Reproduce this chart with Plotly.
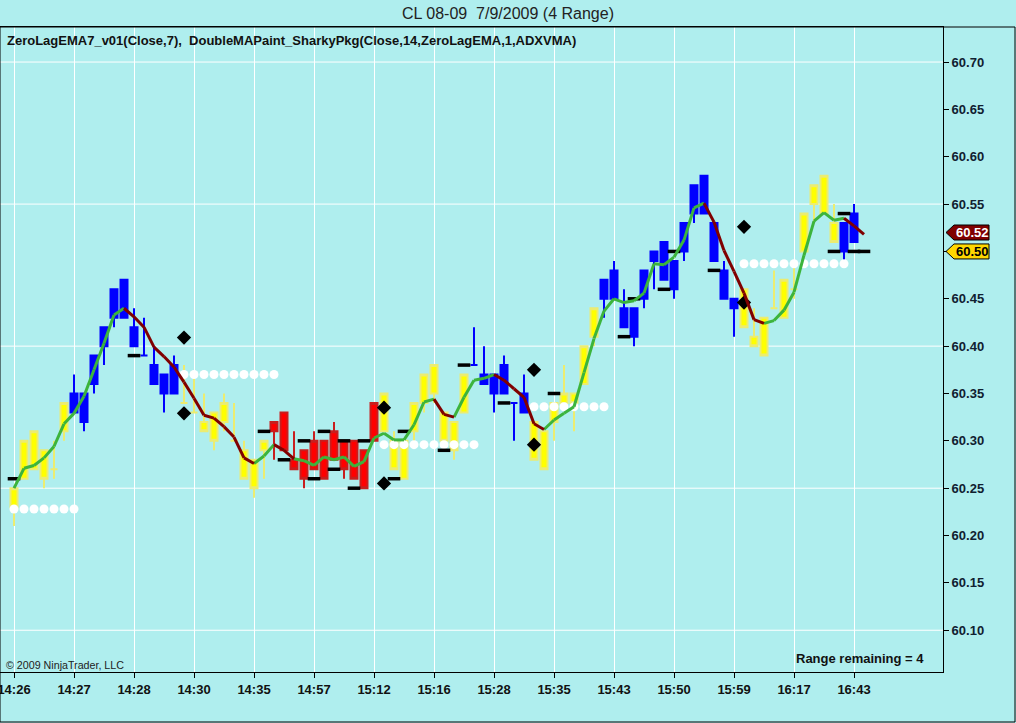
import plotly.graph_objects as go

# ---- chart data (4-tick range bars, CL 08-09, 7/9/2009) ----
# paint colour of each bar: Y yellow, B blue, R red
paint = ("YYYYYYBBBB" "BBBBBBBYYY" "YYYYYYRRRR" "RRRRRRRYYY"
         "YYYYYYBBBB" "BBYYYYYYYB" "BBBBBBBBBB" "BBBYYYYYYY" "YYYBB")

opens = [60.23, 60.26, 60.27, 60.29, 60.27, 60.31, 60.33, 60.35, 60.36, 60.40,
         60.43, 60.43, 60.42, 60.39, 60.38, 60.37, 60.35, 60.34, 60.33, 60.32,
         60.33, 60.32, 60.30, 60.29, 60.28, 60.29, 60.31, 60.33, 60.28, 60.29,
         60.27, 60.30, 60.28, 60.30, 60.30, 60.29, 60.30, 60.31, 60.30, 60.26,
         60.31, 60.34, 60.35, 60.33, 60.32, 60.33, 60.38, 60.36, 60.37, 60.35,
         60.34, 60.35, 60.32, 60.31, 60.32, 60.34, 60.35, 60.36, 60.41, 60.45,
         60.45, 60.44, 60.44, 60.45, 60.49, 60.47, 60.49, 60.50, 60.54, 60.54,
         60.53, 60.48, 60.45, 60.46, 60.41, 60.43, 60.44, 60.43, 60.46, 60.50,
         60.55, 60.54, 60.53, 60.50, 60.51]
highs = [60.25, 60.30, 60.31, 60.29, 60.30, 60.34, 60.37, 60.35, 60.39, 60.42,
         60.46, 60.47, 60.44, 60.43, 60.40, 60.37, 60.39, 60.38, 60.37, 60.35,
         60.33, 60.35, 60.34, 60.30, 60.28, 60.30, 60.32, 60.33, 60.31, 60.29,
         60.31, 60.30, 60.32, 60.30, 60.30, 60.29, 60.34, 60.35, 60.31, 60.30,
         60.34, 60.37, 60.38, 60.33, 60.32, 60.37, 60.42, 60.40, 60.37, 60.39,
         60.34, 60.37, 60.32, 60.31, 60.34, 60.38, 60.35, 60.40, 60.44, 60.47,
         60.49, 60.46, 60.44, 60.48, 60.50, 60.51, 60.49, 60.53, 60.57, 60.58,
         60.53, 60.49, 60.45, 60.46, 60.44, 60.43, 60.48, 60.47, 60.49, 60.54,
         60.57, 60.58, 60.55, 60.53, 60.55]
lows = [60.21, 60.26, 60.27, 60.25, 60.26, 60.30, 60.33, 60.31, 60.35, 60.38,
        60.42, 60.43, 60.40, 60.39, 60.36, 60.33, 60.35, 60.34, 60.33, 60.31,
        60.29, 60.31, 60.30, 60.26, 60.24, 60.26, 60.28, 60.29, 60.27, 60.25,
        60.27, 60.26, 60.28, 60.26, 60.26, 60.25, 60.30, 60.31, 60.27, 60.26,
        60.30, 60.33, 60.34, 60.29, 60.28, 60.33, 60.38, 60.36, 60.33, 60.35,
        60.30, 60.33, 60.28, 60.27, 60.30, 60.34, 60.31, 60.36, 60.40, 60.43,
        60.45, 60.42, 60.40, 60.44, 60.46, 60.47, 60.45, 60.49, 60.53, 60.54,
        60.49, 60.45, 60.41, 60.42, 60.40, 60.39, 60.44, 60.43, 60.45, 60.50,
        60.53, 60.54, 60.51, 60.49, 60.51]
closes = [60.25, 60.30, 60.31, 60.26, 60.27, 60.34, 60.35, 60.32, 60.39, 60.42,
          60.46, 60.47, 60.40, 60.39, 60.36, 60.35, 60.38, 60.34, 60.33, 60.31,
          60.30, 60.34, 60.30, 60.26, 60.25, 60.30, 60.32, 60.29, 60.27, 60.26,
          60.30, 60.26, 60.31, 60.27, 60.26, 60.25, 60.34, 60.35, 60.27, 60.30,
          60.34, 60.37, 60.38, 60.30, 60.29, 60.37, 60.38, 60.37, 60.35, 60.38,
          60.34, 60.33, 60.28, 60.27, 60.34, 60.35, 60.34, 60.40, 60.44, 60.47,
          60.48, 60.42, 60.41, 60.48, 60.50, 60.51, 60.46, 60.53, 60.57, 60.58,
          60.49, 60.45, 60.44, 60.42, 60.40, 60.39, 60.44, 60.47, 60.46, 60.54,
          60.57, 60.58, 60.51, 60.53, 60.54]

# ZeroLagEMA(7) value per bar (one extra for the bar now forming)
zlema = [60.250, 60.271, 60.274, 60.282, 60.294, 60.318, 60.329, 60.347, 60.375, 60.403,
         60.433, 60.440, 60.431, 60.420, 60.399, 60.389, 60.378, 60.362, 60.345, 60.327,
         60.324, 60.315, 60.304, 60.282, 60.276, 60.284, 60.296, 60.290, 60.281, 60.279,
         60.274, 60.283, 60.280, 60.283, 60.273, 60.278, 60.303, 60.308, 60.301, 60.301,
         60.317, 60.341, 60.344, 60.328, 60.325, 60.346, 60.364, 60.366, 60.370, 60.364,
         60.355, 60.346, 60.318, 60.312, 60.322, 60.329, 60.336, 60.372, 60.408, 60.437,
         60.450, 60.446, 60.448, 60.456, 60.487, 60.486, 60.494, 60.512, 60.546, 60.551,
         60.531, 60.501, 60.479, 60.456, 60.428, 60.424, 60.427, 60.438, 60.457, 60.496,
         60.532, 60.541, 60.533, 60.535, 60.527, 60.518]
# trend of the segment ending at each bar: G rising (green), R falling (dark red)
zlema_trend = ("GGGGGGGGGG" "GGRRRRRRRR" "RRRRRGGRRG" "GGGGGGGGGG" "GGGRRGGGGR"
               "RRRRGGGGGG" "GGGGGGGGGG" "RRRRRRGGGG" "GGGGRR")

# flat stretches of the ADXVMA (white dots)
dot_from = [0, 17, 37, 52, 73]
dot_to = [6, 26, 46, 59, 83]
dot_level = [60.228, 60.370, 60.296, 60.336, 60.487]

# black dash markers
dash_idx = [0, 12, 25, 27, 29, 30, 31, 32, 33, 34, 35, 38, 39, 43, 45, 49, 54,
            61, 62, 65, 66, 70, 82, 83, 84, 85]
dash_val = [60.26, 60.39, 60.31, 60.28, 60.30, 60.26, 60.31, 60.27, 60.30, 60.25,
            60.30, 60.26, 60.31, 60.29, 60.38, 60.34, 60.35, 60.41, 60.45, 60.46,
            60.50, 60.48, 60.50, 60.54, 60.50, 60.50]

# black diamonds
diamond_idx = [17, 17, 37, 37, 52, 52, 73, 73]
diamond_val = [60.409, 60.329, 60.335, 60.255, 60.375, 60.296, 60.526, 60.446]

tick_idx = [0, 6, 12, 18, 24, 30, 36, 42, 48, 54, 60, 66, 72, 78, 84]
tick_text = ["14:26", "14:27", "14:28", "14:30", "14:35", "14:57", "15:12", "15:16",
             "15:28", "15:35", "15:43", "15:50", "15:59", "16:17", "16:43"]
grid_levels = [60.10, 60.25, 60.40, 60.55, 60.70]

last_values = [60.52, 60.50]          # right-hand price markers
last_fill = ["#800000", "#ffd700"]
last_font = ["white", "black"]

BG = "#afeeee"
FONT = "Arial, Liberation Sans, sans-serif"

fig = go.Figure()

# candles, one trace per paint colour
paint_style = {"Y": ("#ffff00", "#ecec70"), "B": ("#0000ff", "#0000ff"), "R": ("#ff0000", "#c81e1e")}
for key, (fill, edge) in paint_style.items():
    idx = [i for i, p in enumerate(paint) if p == key]
    style = dict(fillcolor=fill, line=dict(color=edge, width=2))
    fig.add_trace(go.Candlestick(
        x=idx,
        open=[opens[i] for i in idx], high=[highs[i] for i in idx],
        low=[lows[i] for i in idx], close=[closes[i] for i in idx],
        increasing=style, decreasing=style, whiskerwidth=0,
        showlegend=False, hoverinfo="skip"))

# white dots
dx, dy = [], []
for a, b, lvl in zip(dot_from, dot_to, dot_level):
    dx += list(range(a, b + 1))
    dy += [lvl] * (b - a + 1)
fig.add_trace(go.Scatter(x=dx, y=dy, mode="markers",
                         marker=dict(symbol="circle", size=9, color="white"),
                         showlegend=False, hoverinfo="skip"))

fig.add_trace(go.Scatter(x=dash_idx, y=dash_val, mode="markers", cliponaxis=False,
                         marker=dict(symbol="line-ew", size=9, line=dict(color="black", width=3.5)),
                         showlegend=False, hoverinfo="skip"))
fig.add_trace(go.Scatter(x=diamond_idx, y=diamond_val, mode="markers",
                         marker=dict(symbol="diamond", size=11, color="black"),
                         showlegend=False, hoverinfo="skip"))

# ZeroLagEMA line, coloured by trend
for code, col in (("G", "#3cb43c"), ("R", "#800000")):
    lx, ly = [], []
    for i in range(1, len(zlema)):
        if zlema_trend[i] == code:
            lx += [i - 1, i, None]
            ly += [zlema[i - 1], zlema[i], None]
    fig.add_trace(go.Scatter(x=lx, y=ly, mode="lines", line=dict(color=col, width=3),
                             showlegend=False, hoverinfo="skip"))

for g in grid_levels:
    fig.add_hline(y=g, line=dict(color="white", width=1), layer="below")

# layout geometry (pixels)
W, H = 1016, 723
ML, MR, MT, MB = 0, 73, 27, 51
pw, ph = W - ML - MR, H - MT - MB
y_lo, y_hi = 60.0559, 60.7370
ppu = ph / (y_hi - y_lo)

# price markers at the right axis
for val, fill, fc in zip(last_values, last_fill, last_font):
    tip, left, right = 1 + 3 / pw, 1 + 11 / pw, 1 + 46 / pw
    h = 7.5 / ppu
    fig.add_shape(type="path", xref="paper", yref="y",
                  path=f"M {tip},{val} L {left},{val + h} L {right},{val + h} "
                       f"L {right},{val - h} L {left},{val - h} Z",
                  fillcolor=fill, line=dict(color="black", width=1))
    fig.add_annotation(x=(left + right) / 2 + 1 / pw, y=val, xref="paper", yref="y",
                       xanchor="center", yanchor="middle",
                       text=f"{val:.2f}", showarrow=False,
                       font=dict(family=FONT, size=13, color=fc, weight="bold"))

# outer frame
fig.add_shape(type="rect", xref="paper", yref="paper",
              x0=0, x1=(W - 1) / pw, y0=-(MB - 1) / ph, y1=1,
              line=dict(color="black", width=1))

fig.add_annotation(x=5 / pw, y=1 - 13 / ph, xref="paper", yref="paper",
                   xanchor="left", yanchor="middle",
                   text="ZeroLagEMA7_v01(Close,7),\u00a0\u00a0DoubleMAPaint_SharkyPkg(Close,14,ZeroLagEMA,1,ADXVMA)",
                   showarrow=False, font=dict(family=FONT, size=13, color="#111111", weight="bold"))
fig.add_annotation(x=4 / pw, y=7 / ph, xref="paper", yref="paper",
                   xanchor="left", yanchor="middle",
                   text="© 2009 NinjaTrader, LLC", showarrow=False,
                   font=dict(family=FONT, size=10.7, color="#222222"))
fig.add_annotation(x=926 / pw, y=14 / ph, xref="paper", yref="paper",
                   xanchor="right", yanchor="middle",
                   text="Range remaining = 4", showarrow=False,
                   font=dict(family=FONT, size=13, color="#111111", weight="bold"))

fig.update_layout(
    width=W, height=H,
    margin=dict(l=ML, r=MR, t=MT, b=MB, autoexpand=False),
    paper_bgcolor=BG, plot_bgcolor=BG,
    showlegend=False,
    boxgap=0.3, boxgroupgap=0,
    font=dict(family=FONT, size=12, color="#111111"),
    title=dict(text="CL 08-09\u00a0\u00a07/9/2009 (4 Range)", x=0.5, xref="container",
               y=1 - 13 / H, yref="container", yanchor="middle", xanchor="center",
               font=dict(family=FONT, size=16, color="#222222")),
    xaxis=dict(range=[-1.4, (pw - 14) / 10], tickvals=tick_idx, ticktext=tick_text,
               ticks="outside", ticklen=5, tickcolor="black", automargin=False,
               ticklabeloverflow="allow",
               showgrid=True, gridcolor="white", gridwidth=1, zeroline=False,
               showline=True, linecolor="black", mirror=True,
               rangeslider=dict(visible=False),
               tickfont=dict(family=FONT, size=13, color="#111111", weight="bold")),
    yaxis=dict(range=[y_lo, y_hi], side="right", tick0=60.10, dtick=0.05, tickformat=".2f",
               ticks="outside", ticklen=5, tickcolor="black", automargin=False,
               showgrid=False, zeroline=False,
               showline=True, linecolor="black", mirror=True,
               tickfont=dict(family=FONT, size=13, color="#102030", weight="bold")),
)

# the page's default body margin would shift the chart by 8px
fig.write_html("out.html", config={"displayModeBar": False},
               post_script="document.body.style.margin='0px';")
